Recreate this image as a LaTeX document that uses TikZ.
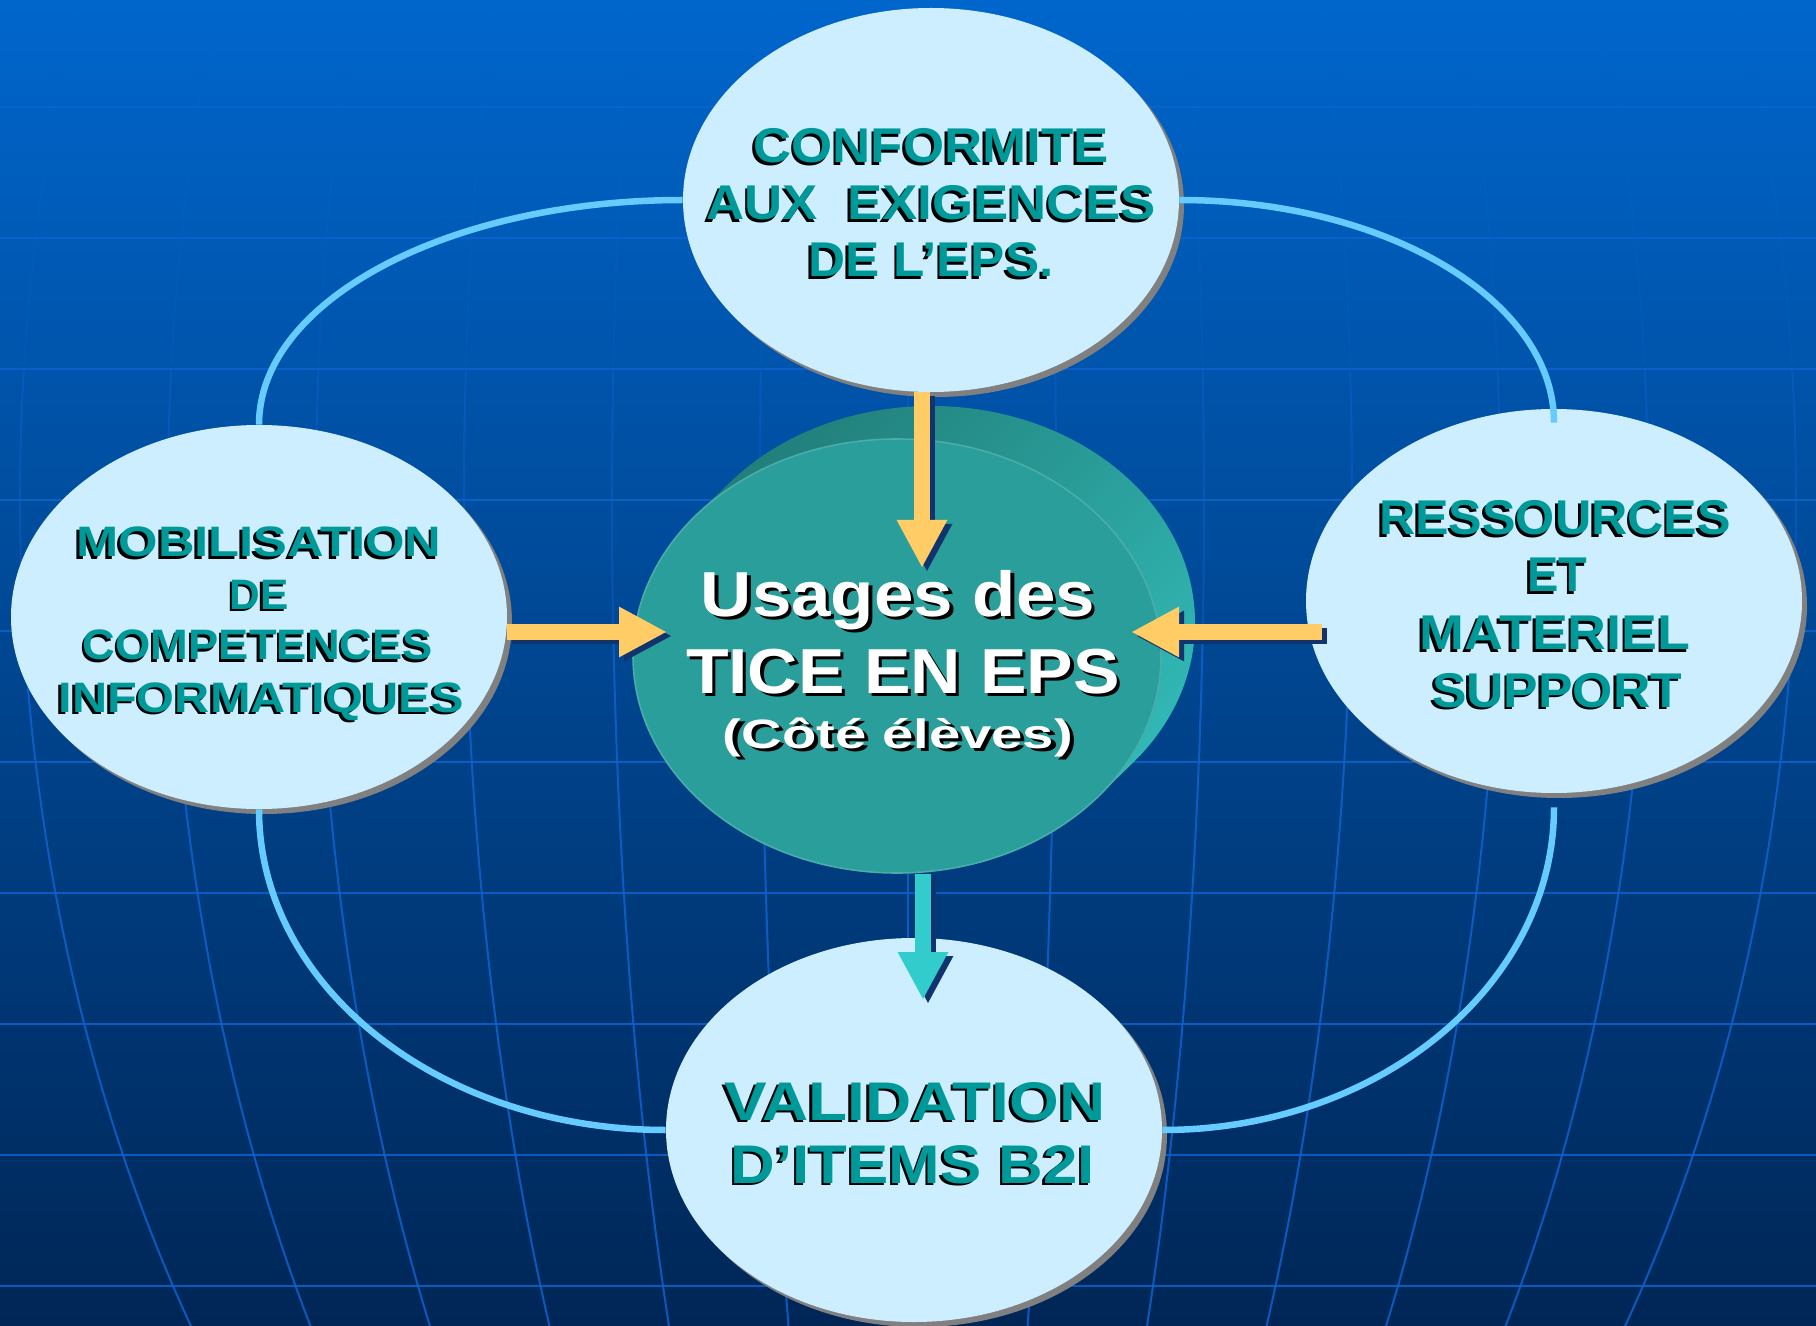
\documentclass[tikz,border=0pt]{standalone}
\usepackage{fontspec}
\setmainfont{Liberation Sans}
\usepackage{graphicx}
\usetikzlibrary{arrows.meta,shapes.geometric,shadows,calc}

\definecolor{bgtop}{HTML}{0066CC}
\definecolor{bgmid}{HTML}{004A94}
\definecolor{bgbot}{HTML}{002656}
\definecolor{gridcol}{HTML}{0E62CF}
\definecolor{ellfill}{HTML}{CCEEFF}
\definecolor{ellshadow}{HTML}{808080}
\definecolor{tealtext}{HTML}{009999}
\definecolor{frontteal}{HTML}{2A9E9B}
\definecolor{sidedark}{HTML}{207A75}
\definecolor{sidelight}{HTML}{33BDBA}
\definecolor{ringcol}{HTML}{66CCFF}
\definecolor{arrowyellow}{HTML}{FFCC66}
\definecolor{arrowcyan}{HTML}{33CCCC}
\definecolor{arrowshadow}{HTML}{12346E}

\newcommand\tealline[2]{\resizebox{#1}{\height}{\rlap{\hspace{-1.2pt}\raisebox{-1.2pt}{\color{black}#2}}{\color{tealtext}#2}}}
\newcommand\whiteline[2]{\resizebox{#1}{\height}{\rlap{\hspace{1.5pt}\raisebox{-1.5pt}{\color{black}#2}}{\color{white}#2}}}

\begin{document}
\begin{tikzpicture}[x=0.5pt,y=0.5pt,
  hgrid/.style={draw=gridcol, line width=1.3pt, opacity=0.85},
  vgrid/.style={draw=gridcol, line width=1pt},
  outer/.style={ellipse, fill=ellfill, minimum width=248pt, minimum height=192pt, inner sep=0pt,
    general shadow={fill=ellshadow, shadow xshift=2.5pt, shadow yshift=-2.5pt}},
  sidefill/.style={top color=sidedark, bottom color=sidelight, shading angle=45},
  ring/.style={draw=ringcol, line width=3.25pt},
  ashadow/.style={draw=arrowshadow, line width=8pt, -{Triangle[length=24pt,width=23.5pt]},
    transform canvas={xshift=2.5pt,yshift=-2pt}},
  ayellow/.style={draw=arrowyellow, line width=8pt, -{Triangle[length=24pt,width=23.5pt]}},
  acyan/.style={draw=arrowcyan, line width=8pt, -{Triangle[length=24pt,width=23.5pt]}},
  txttop/.style={anchor=base, inner sep=0pt, font=\fontsize{24.4pt}{28pt}\selectfont\bfseries},
  txtleft/.style={anchor=base, inner sep=0pt, font=\fontsize{21.3pt}{25pt}\selectfont\bfseries},
  txtbot/.style={anchor=base, inner sep=0pt, font=\fontsize{27.2pt}{31pt}\selectfont\bfseries},
  txtbig/.style={anchor=base, inner sep=0pt, font=\fontsize{31.8pt}{36pt}\selectfont\bfseries},
  txtsmall/.style={anchor=base, inner sep=0pt, font=\fontsize{20.5pt}{24pt}\selectfont\bfseries}
]
\useasboundingbox (0,0) rectangle (1816,-1326);
% background
\fill[top color=bgtop, middle color=bgmid, bottom color=bgbot] (0,0) rectangle (1816,-1326);
\begin{scope}
  \clip (0,0) rectangle (1816,-1326);
  \foreach \yy in {107,238,...,1286} \draw[hgrid] (0,-\yy) -- (1816,-\yy);
\end{scope}
\foreach \ya/\yb/\op in {0/369/0.2, 369/631/0.45, 631/1326/0.85}{
  \begin{scope}
    \clip (0,-\ya) rectangle (1816,-\yb);
    \draw[vgrid, opacity=\op] (908,0) -- (908,-1326);
    \foreach \aa in {148,296,444,592,740,888}
      \draw[vgrid, opacity=\op] (908,-500) ellipse [x radius=\aa, y radius=1400];
  \end{scope}
}

% central disc (extruded side, then front face)
\shade[sidefill] (1132.4,-763.3) arc[start angle=-40.3, end angle=139.7, x radius=264, y radius=217]
   -- (695.6,-515.7) arc[start angle=139.7, end angle=319.7, x radius=264, y radius=217] -- cycle;
\node[ellipse, fill=frontteal, draw=frontteal!85!white, line width=0.8pt, minimum width=264pt, minimum height=217pt, inner sep=0pt] (C) at (897,-656) {};

% outer ellipses
\node[outer] (T) at (931,-200) {};
\node[outer] (L) at (259,-617) {};
\node[outer] (R) at (1554,-601) {};
\node[outer] (B) at (914,-1130) {};

% ring connectors
\coordinate (rn) at ($(R.north)+(0,-14)$);
\coordinate (rsth) at ($(R.south)+(0,-14)$);
\draw[ring] (T.west) .. controls +(-234,0) and +(0,124) .. (L.north);
\draw[ring] (T.east) .. controls +(206,0) and +(0,123) .. (rn);
\draw[ring] (L.south) .. controls +(0,-178) and +(-225,0) .. (B.west);
\draw[ring] (rsth) .. controls +(0,-178) and +(216,0) .. (B.east);

% arrows
\coordinate (ta) at (922,-568);
\coordinate (la) at (667,-632);
\coordinate (ra) at (1131,-632);
\coordinate (ba) at (923,-1000);
\coordinate (rstart) at ($(R.west |- ra)+(16,0)$);
\draw[ashadow] (T.south -| ta) -- (ta);
\draw[ayellow] (T.south -| ta) -- (ta);
\draw[ashadow] (L.east |- la) -- (la);
\draw[ayellow] (L.east |- la) -- (la);
\draw[ashadow] (rstart) -- (ra);
\draw[ayellow] (rstart) -- (ra);
\draw[ashadow] (C.south -| ba) -- (ba);
\draw[acyan] (C.south -| ba) -- (ba);

% texts: top
\node[txttop] (t1) at (931,-163) {\tealline{177.5pt}{CONFORMITE}};
\node[txttop] (t2) at (931,-220) {\tealline{224.5pt}{AUX\ \ EXIGENCES}};
\node[txttop] (t3) at (931,-277) {\tealline{122.5pt}{DE L’EPS.}};
% left
\node[txtleft] (l1) at (259,-557) {\tealline{182.5pt}{MOBILISATION}};
\node[txtleft] (l2) at (259,-609) {\tealline{29.5pt}{DE}};
\node[txtleft] (l3) at (258,-660) {\tealline{175pt}{COMPETENCES}};
\node[txtleft] (l4) at (261,-712) {\tealline{202.5pt}{INFORMATIQUES}};
% right
\node[txttop] (r1) at (1555,-535) {\tealline{176pt}{RESSOURCES}};
\node[txttop] (r2) at (1557,-592) {\tealline{30pt}{ET}};
\node[txttop] (r3) at (1555,-650) {\tealline{135.5pt}{MATERIEL}};
\node[txttop] (r4) at (1557,-707) {\tealline{125pt}{SUPPORT}};
% bottom
\node[txtbot] (b1) at (915,-1120) {\tealline{190.5pt}{VALIDATION}};
\node[txtbot] (b2) at (913,-1183) {\tealline{182pt}{D’ITEMS B2I}};
% centre
\node[txtbig] (c1) at (898,-617) {\whiteline{197pt}{Usages des}};
\node[txtbig] (c2) at (903,-693) {\whiteline{217pt}{TICE EN EPS}};
\node[txtsmall] (c3) at (898,-748) {\whiteline{175pt}{(Côté élèves)}};
\end{tikzpicture}
\end{document}
